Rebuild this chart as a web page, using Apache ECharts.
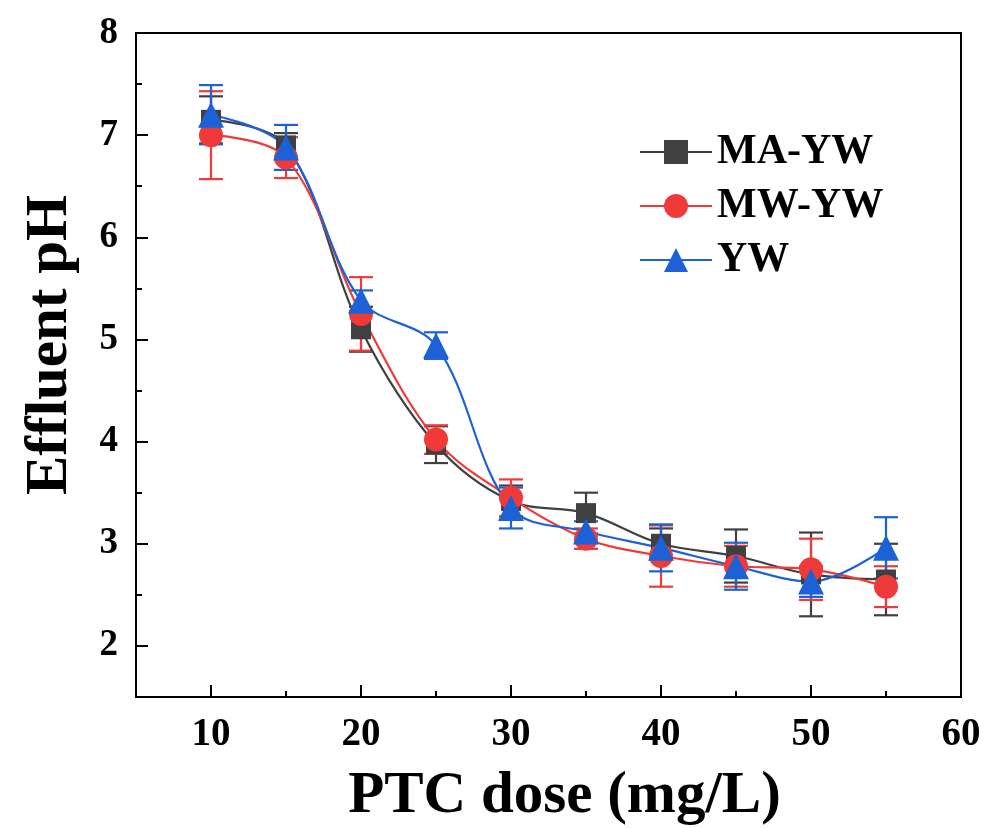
<!DOCTYPE html>
<html>
<head>
<meta charset="utf-8">
<title>Effluent pH</title>
<script src="https://cdn.jsdelivr.net/npm/echarts@6/dist/echarts.min.js"></script>
<style>
  html, body { margin: 0; padding: 0; background: #fff; }
  #chart { width: 986px; height: 828px; }
</style>
</head>
<body>
<div id="chart"></div>
<script>
// PTC dose (mg/L)
var doses = [10, 15, 20, 25, 30, 35, 40, 45, 50, 55];

// effluent pH, mean and error (+/-)
var maYw = [7.15, 6.9, 5.1, 3.97, 3.42, 3.3, 3.0, 2.88, 2.7, 2.65];
var maYwErr = [0.23, 0.12, 0.22, 0.18, 0.15, 0.2, 0.15, 0.26, 0.41, 0.35];
var mwYw = [7.0, 6.78, 5.25, 4.02, 3.45, 3.05, 2.88, 2.78, 2.75, 2.58];
var mwYwErr = [0.43, 0.2, 0.36, 0.14, 0.18, 0.1, 0.3, 0.2, 0.3, 0.2];
var yw = [7.2, 6.88, 5.38, 4.94, 3.35, 3.12, 2.96, 2.78, 2.63, 2.96];
var ywErr = [0.29, 0.22, 0.1, 0.13, 0.2, 0.1, 0.23, 0.23, 0.15, 0.3];

// tick labels
var xTicks = [10, 20, 30, 40, 50, 60];
var xMinorTicks = [15, 25, 35, 45, 55];
var yTicks = [2, 3, 4, 5, 6, 7, 8];
var yMinorTicks = [2.5, 3.5, 4.5, 5.5, 6.5, 7.5];

var FONT = "'Liberation Serif', 'DejaVu Serif', serif";

function points(vals) {
  return doses.map(function (d, i) { return [d, vals[i]]; });
}
function errRows(vals, errs) {
  return doses.map(function (d, i) { return [d, vals[i] - errs[i], vals[i] + errs[i]]; });
}

// error bar: vertical line with two caps
function errorBar(color) {
  return function (params, api) {
    var x = api.value(0);
    var lo = api.coord([x, api.value(1)]);
    var hi = api.coord([x, api.value(2)]);
    var half = 12;
    var style = { stroke: color, lineWidth: 2.2 };
    return {
      type: 'group',
      children: [
        { type: 'line', shape: { x1: hi[0], y1: hi[1], x2: lo[0], y2: lo[1] }, style: style },
        { type: 'line', shape: { x1: hi[0] - half, y1: hi[1], x2: hi[0] + half, y2: hi[1] }, style: style },
        { type: 'line', shape: { x1: lo[0] - half, y1: lo[1], x2: lo[0] + half, y2: lo[1] }, style: style }
      ]
    };
  };
}

function lineSeries(name, vals, color, symbol, size) {
  return {
    name: name,
    type: 'line',
    smooth: 0.35,
    symbol: symbol,
    symbolSize: size,
    data: points(vals),
    itemStyle: { color: color },
    lineStyle: { color: color, width: 2.2 }
  };
}

function errSeries(name, vals, errs, color) {
  return {
    name: name + ' err',
    type: 'custom',
    renderItem: errorBar(color),
    encode: { x: 0, y: [1, 2] },
    data: errRows(vals, errs)
  };
}

var chart = echarts.init(document.getElementById('chart'));
chart.setOption({
  animation: false,
  grid: {
    left: 136, right: 25, top: 33, bottom: 131,
    outerBoundsMode: 'none',
    show: true, borderColor: '#000', borderWidth: 2
  },
  legend: {
    data: ['MA-YW', 'MW-YW', 'YW'],
    orient: 'vertical',
    left: 634, top: 126,
    itemWidth: 72, itemHeight: 30, itemGap: 12,
    textStyle: { fontFamily: FONT, fontWeight: 'bold', fontSize: 42, color: '#000' }
  },
  xAxis: [
    {
      type: 'value', min: 5, max: 60,
      name: 'PTC dose (mg/L)', nameLocation: 'middle', nameGap: 70,
      nameTextStyle: { fontFamily: FONT, fontWeight: 'bold', fontSize: 59, color: '#000', padding: [0, 0, 0, 32] },
      axisLine: { lineStyle: { color: '#000', width: 2 } },
      axisTick: { inside: true, length: 12, customValues: xTicks, lineStyle: { color: '#000', width: 2 } },
      axisLabel: { customValues: xTicks, margin: 18, fontFamily: FONT, fontWeight: 'bold', fontSize: 39, color: '#000' },
      splitLine: { show: false }
    },
    {
      // minor ticks
      type: 'value', min: 5, max: 60, position: 'bottom',
      axisLine: { show: false },
      axisTick: { inside: true, length: 6, customValues: xMinorTicks, lineStyle: { color: '#000', width: 2 } },
      axisLabel: { show: false },
      splitLine: { show: false }
    }
  ],
  yAxis: [
    {
      type: 'value', min: 1.5, max: 8,
      name: 'Effluent pH', nameLocation: 'middle', nameGap: 56,
      nameTextStyle: { fontFamily: FONT, fontWeight: 'bold', fontSize: 59, color: '#000', padding: [0, 0, 0, 40] },
      axisLine: { lineStyle: { color: '#000', width: 2 } },
      axisTick: { inside: true, length: 12, customValues: yTicks, lineStyle: { color: '#000', width: 2 } },
      axisLabel: { customValues: yTicks, margin: 18, fontFamily: FONT, fontWeight: 'bold', fontSize: 37, color: '#000' },
      splitLine: { show: false }
    },
    {
      type: 'value', min: 1.5, max: 8, position: 'left',
      axisLine: { show: false },
      axisTick: { inside: true, length: 6, customValues: yMinorTicks, lineStyle: { color: '#000', width: 2 } },
      axisLabel: { show: false },
      splitLine: { show: false }
    }
  ],
  series: [
    lineSeries('MA-YW', maYw, '#404040', 'rect', 20),
    errSeries('MA-YW', maYw, maYwErr, '#404040'),
    lineSeries('MW-YW', mwYw, '#f03a3a', 'circle', 24),
    errSeries('MW-YW', mwYw, mwYwErr, '#f03a3a'),
    lineSeries('YW', yw, '#1c62d6', 'triangle', 26),
    errSeries('YW', yw, ywErr, '#1c62d6')
  ]
});
</script>
</body>
</html>
